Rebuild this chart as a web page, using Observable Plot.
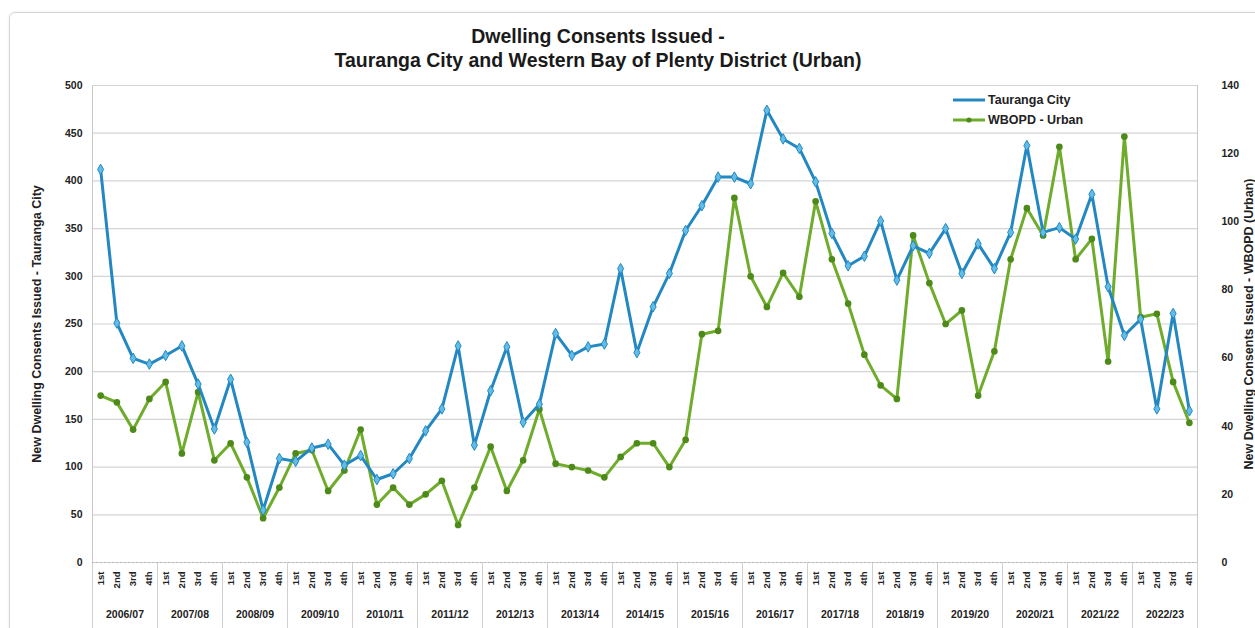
<!DOCTYPE html>
<html><head><meta charset="utf-8">
<script src="https://cdn.jsdelivr.net/npm/d3@7"></script>
<script src="https://cdn.jsdelivr.net/npm/@observablehq/plot@0.6"></script>
<style>
body{margin:0;background:#fff;font-family:"Liberation Sans",Arial,sans-serif;}
#wrap{position:relative;width:1255px;height:628px;overflow:hidden;background:#fff;}
#frame{position:absolute;left:9px;top:12px;width:1270px;height:640px;border:1px solid #d6d6d6;border-radius:6px;box-shadow:0 0 3px rgba(0,0,0,0.08);}
#title{position:absolute;left:0;width:1196px;top:24px;text-align:center;font-weight:bold;font-size:19.5px;line-height:24px;color:#1a1a1a;}
#chart{position:absolute;left:0;top:72px;}
#legend{position:absolute;left:952px;top:90px;font-size:12.5px;font-weight:bold;color:#222;}
#legend .row{display:flex;align-items:center;height:20px;}
#legend svg{margin-right:2px;}
</style></head><body>
<div id="wrap">
<div id="frame"></div>
<div id="title">Dwelling Consents Issued -<br>Tauranga City and Western Bay of Plenty District (Urban)</div>
<div id="chart"></div>
<div id="legend"></div>
</div>
<script>
const years = ["2006/07","2007/08","2008/09","2009/10","2010/11","2011/12","2012/13","2013/14","2014/15","2015/16","2016/17","2017/18","2018/19","2019/20","2020/21","2021/22","2022/23"];
const quarterLabels = ["1st","2nd","3rd","4th"];
const tauranga = [412,251,214,208,217,227,187,140,192,126,
  55,109,106,120,124,102,112,87,93,109,
  138,161,227,123,180,226,147,166,240,217,
  226,229,308,220,268,303,348,374,404,404,
  397,474,444,434,399,345,311,321,358,296,
  332,324,350,303,334,308,346,437,346,351,
  339,386,289,238,255,161,261,159];
const wbopd = [49,47,39,48,53,32,50,30,35,25,
  13,22,32,33,21,27,39,17,22,17,
  20,24,11,22,34,21,30,45,29,28,
  27,25,31,35,35,28,36,67,68,107,
  84,75,85,78,106,89,76,61,52,48,
  96,82,70,74,49,62,89,104,96,122,
  89,95,59,125,72,73,53,41];
const leftTicks = [0,50,100,150,200,250,300,350,400,450,500];
const rightTicks = [0,20,40,60,80,100,120,140];
const seriesNames = ["Tauranga City","WBOPD - Urban"];
const axisTitles = ["New Dwelling Consents Issued - Tauranga City", "New Dwelling Consents Issued - WBOPD (Urban)"];

const blue = "#2388c2", blueFill = "#62bde6";
const green = "#6fac2c", greenFill = "#4e8a1a";
const leftMax = 500, rightMax = 140;
const toLeft = v => v * leftMax / rightMax;

const data = tauranga.map((t, i) => ({i, q: quarterLabels[i % 4], year: years[Math.floor(i / 4)], t, w: toLeft(wbopd[i])}));
const nQ = tauranga.length;
const xPos = d => d.i + 0.5;

const chart = Plot.plot({
  width: 1255,
  height: 556,
  marginTop: 13,
  marginBottom: 66,
  marginLeft: 92,
  marginRight: 58,
  x: {domain: [0, nQ], axis: null},
  y: {domain: [0, leftMax], axis: null},
  style: {fontFamily: "Liberation Sans, Arial, sans-serif", fontSize: "10px", fontWeight: "bold", color: "#222", background: "transparent"},
  marks: [
    Plot.gridY(leftTicks, {stroke: "#d4d4d4", strokeOpacity: 1, strokeWidth: 1.2}),
    Plot.ruleX([0, nQ], {y1: 0, y2: leftMax, stroke: "#c8c8c8"}),
    Plot.ruleX(d3.range(0, nQ + 1, 4), {y1: 0, y2: -70, stroke: "#d0d0d0"}),
    Plot.ruleY([0], {stroke: "#b8b8b8", strokeDasharray: "2,2"}),
    Plot.line(data, {x: xPos, y: "w", stroke: green, strokeWidth: 3}),
    Plot.dot(data, {x: xPos, y: "w", r: 2.6, fill: greenFill, stroke: greenFill, symbol: "circle"}),
    Plot.line(data, {x: xPos, y: "t", stroke: blue, strokeWidth: 3}),
    Plot.dot(data, {x: xPos, y: "t", r: 3.2, fill: blueFill, stroke: blue, strokeWidth: 1, symbol: "diamond"}),
    Plot.axisY(leftTicks, {anchor: "left", tickSize: 0, tickPadding: 10, label: axisTitles[0], labelAnchor: "center", labelOffset: 60, labelArrow: "none", fontSize: 10.5}),
    Plot.axisY(rightTicks.map(toLeft), {anchor: "right", tickSize: 0, tickPadding: 24, tickFormat: d => Math.round(d * rightMax / leftMax), label: axisTitles[1], labelAnchor: "center", labelOffset: 55, labelArrow: "none", fontSize: 10.5}),
    Plot.axisX(d3.range(nQ).map(i => i + 0.5), {tickSize: 0, tickPadding: 9, tickRotate: -90, tickFormat: d => quarterLabels[Math.floor(d) % 4], fontSize: 9.5, label: null}),
    Plot.text(years, {x: (d, k) => k * 4 + 2, frameAnchor: "bottom", dy: 55, fontSize: 10.5, fill: "#222"})
  ]
});
// strip any direction arrows Plot may append to the axis titles, and size them up
chart.querySelectorAll("text").forEach(t => {
  const s = t.textContent;
  if (axisTitles.some(a => s.includes(a))) {
    const clean = s.replace(/[\u2190-\u2193]/g, "").trim();
    t.textContent = clean;
    t.setAttribute("font-size", "12.5");
    t.style.fontSize = "12.5px";
  }
});
document.getElementById("chart").appendChild(chart);

const legendColors = [[blue, blueFill], [green, greenFill]];
const legend = document.getElementById("legend");
seriesNames.forEach((name, k) => {
  const row = document.createElement("div");
  row.className = "row";
  const [c, f] = legendColors[k];
  row.innerHTML = `<svg width="34" height="10"><line x1="1" x2="33" y1="5" y2="5" stroke="${c}" stroke-width="3"/>${k === 1 ? `<circle cx="17" cy="5" r="2.6" fill="${f}"/>` : ""}</svg><span>${name}</span>`;
  legend.appendChild(row);
});
</script>
</body></html>
